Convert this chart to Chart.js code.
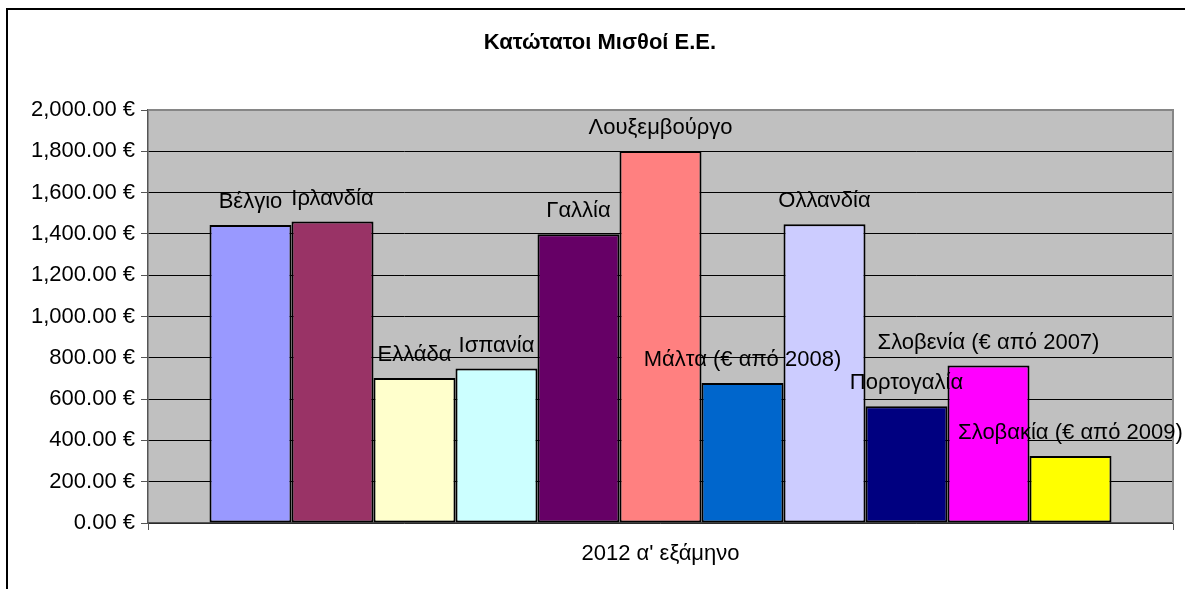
<!DOCTYPE html>
<html>
<head>
<meta charset="utf-8">
<script src="https://cdn.jsdelivr.net/npm/chart.js@4/dist/chart.umd.min.js"></script>
<style>
  html, body { margin: 0; padding: 0; background: #fff; }
  #wrap { width: 1185px; height: 589px; position: relative; }
</style>
</head>
<body>
<div id="wrap"><canvas id="c"></canvas></div>
<script>
const categories = ["2012 α' εξάμηνο"];
const countries = ['Βέλγιο', 'Ιρλανδία', 'Ελλάδα', 'Ισπανία', 'Γαλλία', 'Λουξεμβούργο',
  'Μάλτα (€ από 2008)', 'Ολλανδία', 'Πορτογαλία', 'Σλοβενία (€ από 2007)', 'Σλοβακία (€ από 2009)'];
const wages = [1443, 1460, 702, 748, 1398, 1801, 678, 1447, 565, 763, 325];
const colors = ['#9999FF', '#993366', '#FFFFCC', '#CCFFFF', '#660066', '#FF8080',
  '#0066CC', '#CCCCFF', '#000080', '#FF00FF', '#FFFF00'];
const yMin = 0, yMax = 2000, yStep = 200;

const FONT = "'Liberation Sans', Arial, sans-serif";

const datasets = countries.map((name, i) => ({
  label: name,
  data: [wages[i]],
  backgroundColor: colors[i],
  borderColor: '#000',
  borderWidth: 2,
  borderSkipped: false,
  barPercentage: 1,
  categoryPercentage: 0.88,
}));

// outer frame + grey plot area
const framePlugin = {
  id: 'frame',
  beforeDraw(chart) {
    const c = chart.ctx, a = chart.chartArea;
    c.save();
    c.fillStyle = '#fff';
    c.fillRect(0, 0, chart.width, chart.height);
    c.fillStyle = '#000';
    c.fillRect(6, 8, chart.width, 2);
    c.fillRect(6, 8, 2, chart.height);
    c.fillStyle = '#C0C0C0';
    c.fillRect(a.left, a.top, a.right - a.left, a.bottom - a.top);
    c.restore();
  },
  beforeDatasetsDraw(chart) {
    const c = chart.ctx, a = chart.chartArea;
    c.save();
    c.strokeStyle = '#868686';
    c.lineWidth = 2;
    c.beginPath();
    c.moveTo(a.left, a.top);
    c.lineTo(a.right, a.top);
    c.lineTo(a.right, a.bottom);
    c.stroke();
    c.restore();
  }
};

// country names above each bar
const namesPlugin = {
  id: 'names',
  afterDatasetsDraw(chart) {
    const c = chart.ctx;
    c.save();
    c.font = '22px ' + FONT;
    c.fillStyle = '#000';
    c.textAlign = 'center';
    c.textBaseline = 'middle';
    chart.data.datasets.forEach((ds, i) => {
      const bar = chart.getDatasetMeta(i).data[0];
      c.fillText(ds.label, bar.x, bar.y - 23);
    });
    c.restore();
  }
};

new Chart(document.getElementById('c'), {
  type: 'bar',
  data: { labels: categories, datasets },
  options: {
    responsive: true, maintainAspectRatio: false, animation: false,
    layout: { padding: { left: 27, right: 12, top: 0, bottom: 0 } },
    plugins: {
      legend: { display: false },
      tooltip: { enabled: false },
      title: {
        display: true, text: 'Κατώτατοι Μισθοί Ε.Ε.', color: '#000',
        font: { family: FONT, size: 22, weight: 'bold', lineHeight: 1.2 },
        padding: { top: 30, bottom: 53.6 },
      },
    },
    scales: {
      x: {
        afterFit: s => { s.height = 66; },
        grid: { offset: true, drawOnChartArea: false, drawTicks: true, tickLength: 7, color: '#555' },
        border: { display: true, color: '#555', width: 1.5 },
        ticks: { color: '#000', padding: 11, font: { family: FONT, size: 22 } },
      },
      y: {
        min: yMin, max: yMax,
        afterFit: s => { s.width = 121; },
        grid: {
          color: ctx => ctx.tick && ctx.tick.value === yMax ? 'rgba(0,0,0,0)' : '#000',
          tickColor: '#555', tickLength: 7, lineWidth: 1,
        },
        border: { display: true, color: '#555', width: 1.5 },
        ticks: {
          stepSize: yStep, color: '#000', padding: 6,
          font: { family: FONT, size: 22 },
          callback: v => v.toLocaleString('en-US', { minimumFractionDigits: 2, maximumFractionDigits: 2 }) + ' €',
        },
      },
    },
  },
  plugins: [framePlugin, namesPlugin],
});
</script>
</body>
</html>
